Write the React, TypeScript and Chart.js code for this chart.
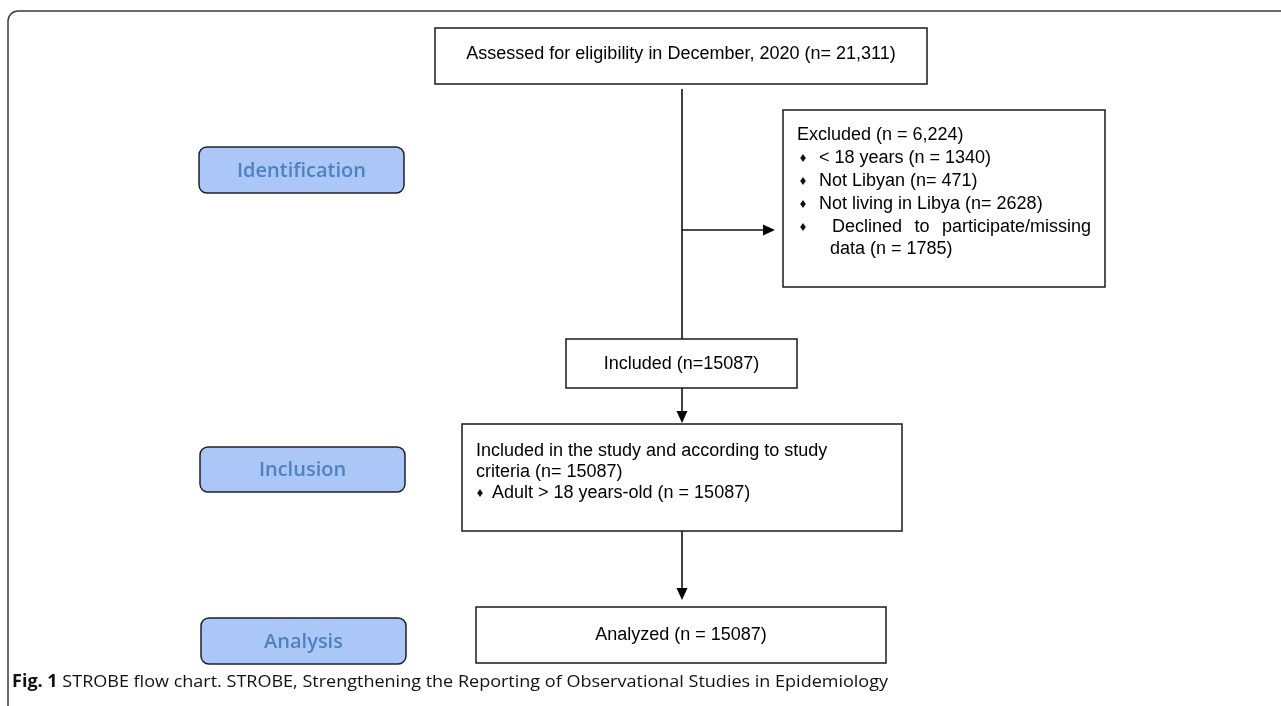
import React, { useEffect, useRef } from "react";
import { Chart, registerables } from "chart.js";

Chart.register(...registerables);

// ---- content (text data) ----
const stageLabels = ["Identification", "Inclusion", "Analysis"];
const assessedText = ["Assessed for eligibility in December, 2020 (n= 21,311)"];
const excludedTitle = ["Excluded (n = 6,224)"];
const excludedItems = [
  "< 18 years (n = 1340)",
  "Not Libyan (n= 471)",
  "Not living in Libya (n= 2628)",
];
const excludedLastItem = ["Declined to participate/missing", "data (n = 1785)"];
const includedText = ["Included (n=15087)"];
const studyLines = ["Included in the study and according to study", "criteria (n= 15087)"];
const studyItems = ["Adult > 18 years-old (n = 15087)"];
const analyzedText = ["Analyzed (n = 15087)"];
const captionBold = ["Fig. 1"];
const captionText = [" STROBE flow chart. STROBE, Strengthening the Reporting of Observational Studies in Epidemiology"];

// ---- layout (positions in the hidden linear scales' units) ----
const L = {
  frame: { x: 8, y: 11, r: 10 },
  top: [435, 28, 927, 84],
  topTextY: 54,
  mainX: 682,
  mainLine: [89, 339],
  exclArrowY: 230,
  exclArrowTip: 775,
  excl: [783, 110, 1105, 287],
  exclTextX: 797,
  exclBulletX: 803,
  exclItemX: 819,
  exclDeclX: 832,
  exclDeclEnd: 1091,
  exclDataX: 830,
  exclLinesY: [135, 158, 181, 204, 227, 249],
  incl: [566, 339, 797, 388],
  inclTextY: 364,
  arrow2: [388, 423],
  study: [462, 424, 902, 531],
  studyTextX: 476,
  studyBulletX: 480,
  studyItemX: 492,
  studyLinesY: [451, 472, 493],
  arrow3: [531, 600],
  analyzed: [476, 607, 886, 663],
  analyzedTextY: 635,
  stages: [
    [199, 147, 404, 193],
    [200, 447, 405, 492],
    [201, 618, 406, 664],
  ],
  captionX: 12,
  captionY: 682,
  captionWidth: 876,
};

const BOX_FONT = '18px "Liberation Sans", Arial, sans-serif';
const STAGE_FONT = '600 20px "Open Sans", sans-serif';
const CAP_BOLD = '700 17px "Open Sans", sans-serif';
const CAP_NORM = '400 17px "Open Sans", sans-serif';

const flowPlugin = {
  id: "flow",
  afterDraw(chart: any) {
    const ctx: CanvasRenderingContext2D = chart.ctx;
    const xs = chart.scales.x;
    const ys = chart.scales.y;
    const X = (v: number) => xs.getPixelForValue(v);
    const Y = (v: number) => ys.getPixelForValue(v);

    ctx.save();
    ctx.fillStyle = "#ffffff";
    ctx.fillRect(0, 0, chart.width, chart.height);

    // outer frame (open to the right and bottom)
    const f = L.frame;
    ctx.strokeStyle = "#3a3a3a";
    ctx.lineWidth = 1.5;
    ctx.beginPath();
    ctx.moveTo(X(f.x), Y(720));
    ctx.lineTo(X(f.x), Y(f.y + f.r));
    ctx.arcTo(X(f.x), Y(f.y), X(f.x + f.r), Y(f.y), f.r);
    ctx.lineTo(X(1300), Y(f.y));
    ctx.stroke();

    const box = (b: number[]) => {
      ctx.strokeStyle = "#1a1a1a";
      ctx.lineWidth = 1.5;
      ctx.fillStyle = "#ffffff";
      ctx.beginPath();
      ctx.rect(X(b[0]), Y(b[1]), X(b[2]) - X(b[0]), Y(b[3]) - Y(b[1]));
      ctx.fill();
      ctx.stroke();
    };
    const line = (x1: number, y1: number, x2: number, y2: number) => {
      ctx.strokeStyle = "#111111";
      ctx.lineWidth = 1.6;
      ctx.beginPath();
      ctx.moveTo(X(x1), Y(y1));
      ctx.lineTo(X(x2), Y(y2));
      ctx.stroke();
    };
    const arrowDown = (x: number, y1: number, y2: number) => {
      line(x, y1, x, y2 - 9);
      ctx.fillStyle = "#000000";
      ctx.beginPath();
      ctx.moveTo(X(x), Y(y2));
      ctx.lineTo(X(x - 5.5), Y(y2 - 12));
      ctx.lineTo(X(x + 5.5), Y(y2 - 12));
      ctx.closePath();
      ctx.fill();
    };
    const arrowRight = (y: number, x1: number, x2: number) => {
      line(x1, y, x2 - 9, y);
      ctx.fillStyle = "#000000";
      ctx.beginPath();
      ctx.moveTo(X(x2), Y(y));
      ctx.lineTo(X(x2 - 12), Y(y - 5.5));
      ctx.lineTo(X(x2 - 12), Y(y + 5.5));
      ctx.closePath();
      ctx.fill();
    };
    const diamond = (x: number, y: number) => {
      ctx.fillStyle = "#111111";
      ctx.beginPath();
      ctx.moveTo(X(x), Y(y - 4));
      ctx.lineTo(X(x + 2.8), Y(y));
      ctx.lineTo(X(x), Y(y + 4));
      ctx.lineTo(X(x - 2.8), Y(y));
      ctx.closePath();
      ctx.fill();
    };
    const text = (s: string, x: number, y: number, align: CanvasTextAlign = "left") => {
      ctx.fillStyle = "#000000";
      ctx.font = BOX_FONT;
      ctx.textAlign = align;
      ctx.textBaseline = "middle";
      ctx.fillText(s, X(x), Y(y));
    };

    // connectors
    line(L.mainX, L.mainLine[0], L.mainX, L.mainLine[1]);
    arrowRight(L.exclArrowY, L.mainX, L.exclArrowTip);
    arrowDown(L.mainX, L.arrow2[0], L.arrow2[1]);
    arrowDown(L.mainX, L.arrow3[0], L.arrow3[1]);

    // top box
    box(L.top);
    text(assessedText[0], (L.top[0] + L.top[2]) / 2, L.topTextY, "center");

    // excluded box
    box(L.excl);
    text(excludedTitle[0], L.exclTextX, L.exclLinesY[0]);
    excludedItems.forEach((s, i) => {
      diamond(L.exclBulletX, L.exclLinesY[i + 1]);
      text(s, L.exclItemX, L.exclLinesY[i + 1]);
    });
    {
      const yy = L.exclLinesY[4];
      diamond(L.exclBulletX, yy);
      const words = excludedLastItem[0].split(" ");
      ctx.font = BOX_FONT;
      const total = words.reduce((a, w) => a + ctx.measureText(w).width, 0);
      const gap = (X(L.exclDeclEnd) - X(L.exclDeclX) - total) / (words.length - 1);
      let px = X(L.exclDeclX);
      ctx.fillStyle = "#000000";
      ctx.textAlign = "left";
      ctx.textBaseline = "middle";
      words.forEach((w) => {
        ctx.fillText(w, px, Y(yy));
        px += ctx.measureText(w).width + gap;
      });
      text(excludedLastItem[1], L.exclDataX, L.exclLinesY[5]);
    }

    // included box
    box(L.incl);
    text(includedText[0], (L.incl[0] + L.incl[2]) / 2, L.inclTextY, "center");

    // study box
    box(L.study);
    studyLines.forEach((s, i) => text(s, L.studyTextX, L.studyLinesY[i]));
    studyItems.forEach((s, i) => {
      const yy = L.studyLinesY[studyLines.length + i];
      diamond(L.studyBulletX, yy);
      text(s, L.studyItemX, yy);
    });

    // analyzed box
    box(L.analyzed);
    text(analyzedText[0], (L.analyzed[0] + L.analyzed[2]) / 2, L.analyzedTextY, "center");

    // stage boxes
    stageLabels.forEach((s, i) => {
      const b = L.stages[i];
      const x0 = X(b[0]), y0 = Y(b[1]), w = X(b[2]) - x0, h = Y(b[3]) - y0;
      ctx.fillStyle = "#aac7f8";
      ctx.strokeStyle = "#1f1f2a";
      ctx.lineWidth = 1.5;
      ctx.beginPath();
      (ctx as any).roundRect(x0, y0, w, h, 8);
      ctx.fill();
      ctx.stroke();
      ctx.fillStyle = "#4f81bd";
      ctx.font = STAGE_FONT;
      ctx.textAlign = "center";
      ctx.textBaseline = "middle";
      ctx.fillText(s, x0 + w / 2, y0 + h / 2 + 1);
    });

    // caption
    {
      ctx.font = CAP_BOLD;
      const wb = ctx.measureText(captionBold[0]).width;
      ctx.font = CAP_NORM;
      const wn = ctx.measureText(captionText[0]).width;
      const sx = L.captionWidth / (wb + wn);
      ctx.save();
      ctx.translate(X(L.captionX), Y(L.captionY));
      ctx.scale(sx, 1);
      ctx.fillStyle = "#111111";
      ctx.textAlign = "left";
      ctx.textBaseline = "middle";
      ctx.font = CAP_BOLD;
      ctx.fillText(captionBold[0], 0, 0);
      ctx.font = CAP_NORM;
      ctx.fillText(captionText[0], wb, 0);
      ctx.restore();
    }
    ctx.restore();
  },
};

export default function App() {
  const ref = useRef<HTMLCanvasElement | null>(null);
  useEffect(() => {
    if (!ref.current) return;
    const chart = new Chart(ref.current, {
      type: "scatter",
      data: { datasets: [{ data: [], pointRadius: 0 }] },
      options: {
        animation: false,
        responsive: false,
        devicePixelRatio: 1,
        layout: { padding: 0 },
        events: [],
        scales: {
          x: { type: "linear", min: 0, max: 1281, display: false },
          y: { type: "linear", min: 0, max: 706, reverse: true, display: false },
        },
        plugins: { legend: { display: false }, tooltip: { enabled: false } },
      },
      plugins: [flowPlugin],
    });
    let alive = true;
    if ((document as any).fonts) {
      Promise.all([
        document.fonts.load(STAGE_FONT),
        document.fonts.load(BOX_FONT),
        document.fonts.load(CAP_BOLD),
        document.fonts.load(CAP_NORM),
      ]).then(() => {
        if (alive) chart.draw();
      }).catch(() => {});
    }
    return () => {
      alive = false;
      chart.destroy();
    };
  }, []);
  return (
    <div style={{ position: "fixed", left: 0, top: 0, width: 1281, height: 706, background: "#fff" }}>
      <canvas ref={ref} width={1281} height={706} style={{ display: "block", width: 1281, height: 706 }} />
    </div>
  );
}
